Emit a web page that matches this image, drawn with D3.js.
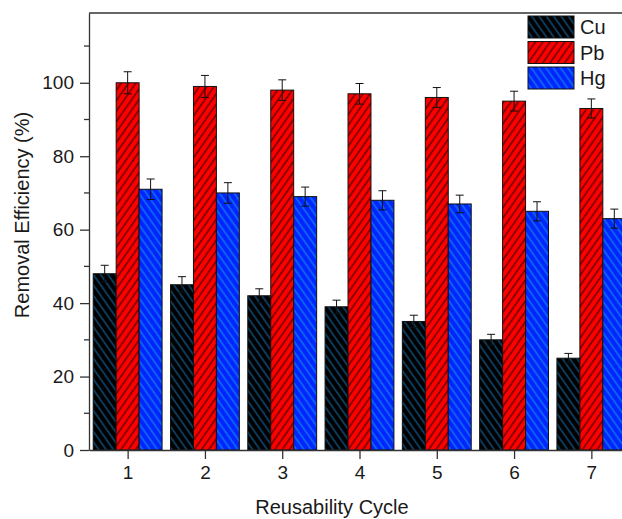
<!DOCTYPE html>
<html>
  <head>
    <meta charset="UTF-8" />
    <script src="https://d3js.org/d3.v7.min.js"></script>
    <style>
      body { margin: 0; background: #fff; }
      text { font-family: "Liberation Sans", Arial, sans-serif; fill: #1a1a1a; }
    </style>
  </head>
  <body>
    <div id="my_dataviz"></div>

    <script>
      var width = 622, height = 519;

      // data
      const cycles = [1, 2, 3, 4, 5, 6, 7];
      const seriesNames = ["Cu", "Pb", "Hg"];
      const cuValues = [48, 45, 42, 39, 35, 30, 25];
      const pbValues = [100, 99, 98, 97, 96, 95, 93];
      const hgValues = [71, 70, 69, 68, 67, 65, 63];
      const cuErrors = [2.3, 2.2, 1.9, 1.8, 1.7, 1.5, 1.3];
      const pbErrors = [3.0, 3.0, 2.8, 2.8, 2.7, 2.7, 2.6];
      const hgErrors = [2.8, 2.8, 2.6, 2.6, 2.4, 2.6, 2.6];
      const yTicks = [0, 20, 40, 60, 80, 100];
      const yMinorTicks = [10, 30, 50, 70, 90, 110];

      const seriesValues = [cuValues, pbValues, hgValues];
      const seriesErrors = [cuErrors, pbErrors, hgErrors];

      // fill, hatch colour, hatch angle
      const styles = [
        { fill: "#000000", hatch: "#1b7fc4", angle: -35 },
        { fill: "#ff0000", hatch: "#000000", angle: 35 },
        { fill: "#0026ff", hatch: "#1fa3e0", angle: -35 }
      ];

      var svg = d3
        .select("#my_dataviz")
        .append("svg")
        .attr("width", width)
        .attr("height", height);

      var defs = svg.append("defs");
      styles.forEach((s, i) => {
        var p = defs
          .append("pattern")
          .attr("id", "hatch" + i)
          .attr("patternUnits", "userSpaceOnUse")
          .attr("width", 6)
          .attr("height", 6)
          .attr("patternTransform", "rotate(" + s.angle + ")");
        p.append("rect").attr("width", 6).attr("height", 6).attr("fill", s.fill);
        p.append("line")
          .attr("x1", 3).attr("x2", 3)
          .attr("y1", 0).attr("y2", 6)
          .attr("stroke", s.hatch)
          .attr("stroke-width", 0.9);
      });

      var plotLeft = 89, plotTop = 13, plotBottom = 450, plotRight = 630;

      var xScale = d3.scaleLinear().domain([0.5, 7.5]).range([plotLeft, plotRight]);
      var yScale = d3.scaleLinear().domain([0, 119]).range([plotBottom, plotTop]);

      var unit = xScale(2) - xScale(1);
      var bw = unit * 0.297;

      // bars
      seriesValues.forEach((vals, j) => {
        svg.append("g")
          .selectAll("rect")
          .data(vals)
          .join("rect")
          .attr("x", (d, i) => xScale(cycles[i]) + (j - 1.5) * bw)
          .attr("y", d => yScale(d))
          .attr("width", bw)
          .attr("height", d => yScale(0) - yScale(d))
          .attr("fill", "url(#hatch" + j + ")")
          .attr("stroke", "#111")
          .attr("stroke-width", 1);
      });

      // error bars
      seriesValues.forEach((vals, j) => {
        var g = svg.append("g").attr("stroke", "#111").attr("stroke-width", 1);
        vals.forEach((v, i) => {
          var cx = xScale(cycles[i]) + (j - 1) * bw;
          var e = seriesErrors[j][i];
          var y1 = yScale(v + e), y2 = yScale(v - e);
          g.append("line").attr("x1", cx).attr("x2", cx).attr("y1", y1).attr("y2", y2);
          g.append("line").attr("x1", cx - 4).attr("x2", cx + 4).attr("y1", y1).attr("y2", y1);
          g.append("line").attr("x1", cx - 4).attr("x2", cx + 4).attr("y1", y2).attr("y2", y2);
        });
      });

      // axes
      var yAxis = svg.append("g")
        .attr("transform", "translate(" + plotLeft + ",0)")
        .call(d3.axisLeft(yScale).tickValues(yTicks).tickSize(9).tickPadding(6).tickSizeOuter(0));
      yAxis.append("g")
        .selectAll("line")
        .data(yMinorTicks)
        .join("line")
        .attr("x1", -5).attr("x2", 0)
        .attr("y1", d => yScale(d)).attr("y2", d => yScale(d))
        .attr("stroke", "#333");

      var xAxis = svg.append("g")
        .attr("transform", "translate(0," + plotBottom + ")")
        .call(d3.axisBottom(xScale).tickValues(cycles).tickFormat(d3.format("d")).tickSize(9).tickPadding(7).tickSizeOuter(0));

      [yAxis, xAxis].forEach(a => {
        a.selectAll("path, line").attr("stroke", "#333").attr("stroke-width", 1.3);
        a.selectAll("text").style("font-size", "19px").attr("fill", "#1a1a1a");
      });

      // top frame
      svg.append("line")
        .attr("x1", plotLeft).attr("x2", plotRight)
        .attr("y1", plotTop).attr("y2", plotTop)
        .attr("stroke", "#333").attr("stroke-width", 1.3);

      // axis titles
      svg.append("text")
        .attr("x", 332)
        .attr("y", 514)
        .attr("text-anchor", "middle")
        .style("font-size", "20px")
        .text("Reusability Cycle");

      svg.append("text")
        .attr("transform", "translate(29,215) rotate(-90)")
        .attr("text-anchor", "middle")
        .style("font-size", "20px")
        .text("Removal Efficiency (%)");

      // legend
      var legend = svg.append("g").attr("transform", "translate(528,16)");
      seriesNames.forEach((name, j) => {
        legend.append("rect")
          .attr("x", 0).attr("y", j * 25.5)
          .attr("width", 46).attr("height", 22)
          .attr("fill", "url(#hatch" + j + ")")
          .attr("stroke", "#111").attr("stroke-width", 1);
        legend.append("text")
          .attr("x", 52).attr("y", j * 25.5 + 11)
          .attr("dy", "0.35em")
          .style("font-size", "20px")
          .text(name);
      });
    </script>
  </body>
</html>
